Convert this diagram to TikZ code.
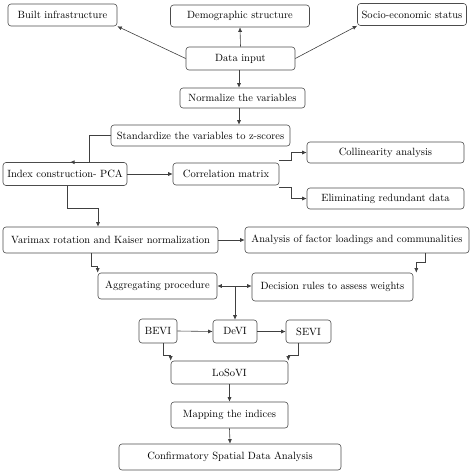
\documentclass[tikz,border=0pt]{standalone}
\usepackage{tikz}
\usetikzlibrary{positioning,arrows.meta}

\tikzset{
  block/.style={draw=black!70,rectangle,rounded corners=3pt,line width=0.6pt,
    inner sep=1pt,font=\fontsize{10.5}{12}\selectfont},
  link/.style={draw=black!75,line width=0.6pt,-{Latex[length=4.5pt,width=4pt]}},
}

\begin{document}
\begin{tikzpicture}[x=1pt,y=-1pt]
        \useasboundingbox (0,0) rectangle (474,474);
        % top row
        \node[block,minimum width=109,minimum height=22] (built) at (62.5,15) {Built infrastructure};
        \node[block,minimum width=139,minimum height=22] (demo) at (240,16) {Demographic structure};
        \node[block,minimum width=109,minimum height=22] (socio) at (412,14.5) {Socio-economic status};
        \node[block,minimum width=109,minimum height=23] (datain) at (240.5,58.5) {Data input};
        \node[block,minimum width=125,minimum height=20] (normal) at (242.5,98) {Normalize the variables};
        \node[block,minimum width=179,minimum height=21] (stand) at (200.5,135.5) {Standardize the variables to z-scores};
        % PCA part
        \node[block,minimum width=124,minimum height=23] (index) at (65,174) {Index construction- PCA};
        \node[block,minimum width=106,minimum height=22] (corr) at (226,174) {Correlation matrix};
        \node[block,minimum width=157,minimum height=21] (colli) at (385.5,152.5) {Collinearity analysis};
        \node[block,minimum width=157,minimum height=21] (elim) at (385.5,198.5) {Eliminating redundant data};
        \node[block,minimum width=215,minimum height=26] (varimax) at (110.5,240) {Varimax rotation and Kaiser normalization};
        \node[block,minimum width=224,minimum height=26] (analysis) at (357,240) {Analysis of factor loadings and communalities};
        \node[block,minimum width=119,minimum height=26] (aggr) at (157.5,286) {Aggregating procedure};
        \node[block,minimum width=161,minimum height=28] (decis) at (332.5,287) {Decision rules to assess weights};
        % indices
        \node[block,minimum width=38,minimum height=24] (bevi) at (158,331) {BEVI};
        \node[block,minimum width=44,minimum height=23] (devi) at (235,331.5) {DeVI};
        \node[block,minimum width=45,minimum height=23] (sevi) at (308.5,331.5) {SEVI};
        \node[block,minimum width=117,minimum height=23] (losovi) at (229.5,372.5) {LoSoVI};
        \node[block,minimum width=117,minimum height=26] (mapping) at (229.5,415) {Mapping the indices};
        \node[block,minimum width=222,minimum height=26] (confirm) at (230,457) {Confirmatory Spatial Data Analysis};
        % connectors
        \draw[link] (datain.west) -- (built.south east);
        \draw[link] (datain.north) -- (demo.south);
        \draw[link] (datain.east) -- (socio.south west);
        \draw[link] ([xshift=-1.5]datain.south) -- ([xshift=-1.5]datain.south |- normal.north);
        \draw[link] ([xshift=-1.5]datain.south |- normal.south) -- ([xshift=-1.5]datain.south |- stand.north);
        \draw[link] (stand.west) -| ([xshift=24]index.north) -- ([xshift=5]index.north);
        \draw[link] (index.east) -- (corr.west);
        \draw[link] ([yshift=2]corr.north east) -- ++(12,0) |- (colli.west);
        \draw[link] ([yshift=-2]corr.south east) -- ++(12,0) |- (elim.west);
        \draw[link] ([xshift=2]index.south) -- ++(0,22) -| ([xshift=-12.5]varimax.north);
        \draw[link] (varimax.east) -- (analysis.west);
        \draw[link] ([xshift=-19.5]varimax.south) -- ++(0,13) -| (aggr.north west);
        \draw[link] ([xshift=68]analysis.south) -- ++(0,9) -| ([xshift=3]decis.north east);
        \draw[link,{Latex[length=4.5pt,width=4pt]}-{Latex[length=4.5pt,width=4pt]}] (aggr.east) -- (aggr.east -| decis.west);
        \draw[link] (aggr.east -| devi.north) -- (devi.north);
        \draw[link] (bevi.east) -- (devi.west);
        \draw[link] (devi.east) -- (sevi.west);
        \draw[link] ([xshift=5]bevi.south) -- ++(0,12) -| (losovi.north west);
        \draw[link] ([xshift=-10.5]sevi.south) -- ++(0,12) -| (losovi.north east);
        \draw[link] (losovi.south) -- (mapping.north);
        \draw[link] (mapping.south) -- (confirm.north);
      \end{tikzpicture}
\end{document}
